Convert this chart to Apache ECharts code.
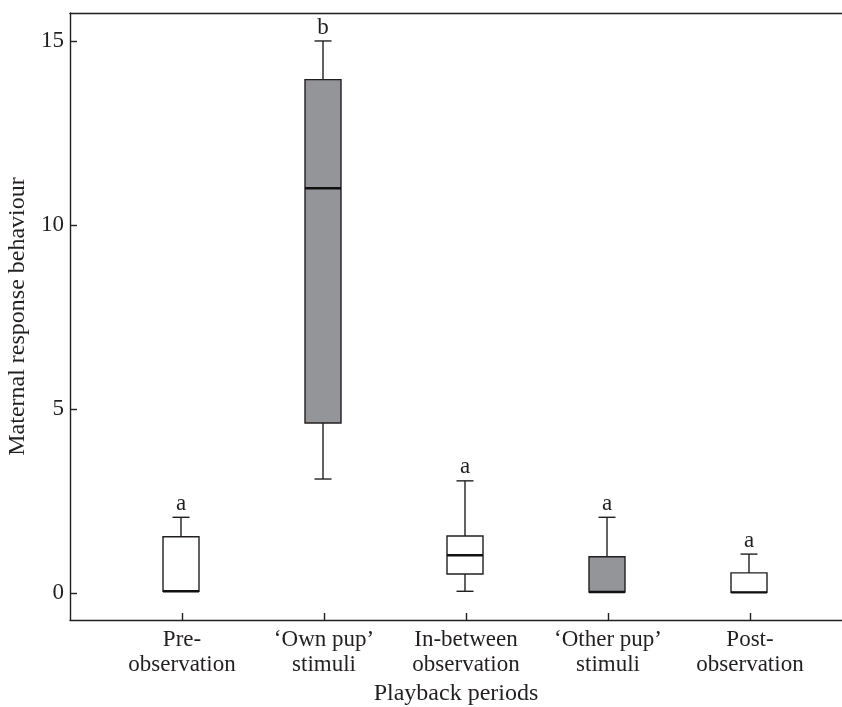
<!DOCTYPE html>
<html>
<head>
<meta charset="utf-8">
<script src="https://cdn.jsdelivr.net/npm/echarts@6/dist/echarts.min.js"></script>
<style>
  html, body { margin: 0; padding: 0; background: #fff; }
  #chart { width: 842px; height: 707px; }
</style>
</head>
<body>
<div id="chart"></div>
<script>
// playback periods
var categories = ['Pre-\nobservation', '\u2018Own pup\u2019\nstimuli', 'In-between\nobservation', '\u2018Other pup\u2019\nstimuli', 'Post-\nobservation'];
// [lower whisker, Q1, median, Q3, upper whisker]
var boxValues = [
  [0.05, 0.05, 0.05, 1.53, 2.06],
  [3.1, 4.62, 11.0, 13.95, 15.0],
  [0.05, 0.52, 1.03, 1.55, 3.05],
  [0.03, 0.03, 0.03, 0.99, 2.06],
  [0.02, 0.02, 0.02, 0.55, 1.06]
];
var letters = ['a', 'b', 'a', 'a', 'a'];
var shaded = [false, true, false, true, false];
var yTicks = [0, 5, 10, 15];

var FONT = '"Liberation Serif", "DejaVu Serif", serif';
var INK = '#231f20';
var GREY = '#939598';

var yMin = -0.73, yMax = 15.76;

function renderBox(params, api) {
  var i = api.value(0);
  var lo = api.coord([i, api.value(1)]);
  var q1 = api.coord([i, api.value(2)]);
  var med = api.coord([i, api.value(3)]);
  var q3 = api.coord([i, api.value(4)]);
  var hi = api.coord([i, api.value(5)]);
  var x = lo[0] - 1;
  var bw = 36, cap = 17;
  var fill = shaded[params.dataIndex] ? GREY : '#fff';
  var line = { stroke: INK, lineWidth: 1.4 };
  var kids = [];
  // whiskers
  kids.push({ type: 'line', shape: { x1: x, y1: q3[1], x2: x, y2: hi[1] }, style: line });
  kids.push({ type: 'line', shape: { x1: x - cap / 2, y1: hi[1], x2: x + cap / 2, y2: hi[1] }, style: line });
  if (lo[1] - q1[1] > 2) {
    kids.push({ type: 'line', shape: { x1: x, y1: q1[1], x2: x, y2: lo[1] }, style: line });
    kids.push({ type: 'line', shape: { x1: x - cap / 2, y1: lo[1], x2: x + cap / 2, y2: lo[1] }, style: line });
  }
  // box
  kids.push({ type: 'rect', shape: { x: x - bw / 2, y: q3[1], width: bw, height: q1[1] - q3[1] },
    style: { fill: fill, stroke: INK, lineWidth: 1.4 } });
  // median
  kids.push({ type: 'line', shape: { x1: x - bw / 2, y1: med[1], x2: x + bw / 2, y2: med[1] },
    style: { stroke: '#111', lineWidth: 2.4 } });
  // significance letter
  kids.push({ type: 'text', x: x, y: hi[1] - 2,
    style: { text: letters[params.dataIndex], font: '23px ' + FONT, fill: INK, align: 'center', verticalAlign: 'bottom' } });
  return { type: 'group', children: kids };
}

var chart = echarts.init(document.getElementById('chart'));
chart.setOption({
  animation: false,
  grid: [
    { left: 70, right: 0, top: 13, bottom: 87, outerBoundsMode: 'none' },
    { left: 111, right: 21, top: 13, bottom: 87, outerBoundsMode: 'none' }
  ],
  xAxis: [
    { gridIndex: 0, type: 'value', min: 0, max: 1, position: 'bottom',
      axisLine: { onZero: false, lineStyle: { color: INK, width: 1.4 } },
      axisTick: { show: false }, axisLabel: { show: false }, splitLine: { show: false },
      name: 'Playback periods', nameLocation: 'middle', nameGap: 62,
      nameTextStyle: { fontFamily: FONT, fontSize: 24, color: INK } },
    { gridIndex: 0, type: 'value', min: 0, max: 1, position: 'top',
      axisLine: { onZero: false, lineStyle: { color: INK, width: 1.4 } },
      axisTick: { show: false }, axisLabel: { show: false }, splitLine: { show: false } },
    { gridIndex: 1, type: 'category', data: categories, boundaryGap: true, position: 'bottom',
      axisLine: { show: false, onZero: false },
      axisTick: { show: true, inside: true, alignWithLabel: true, length: 7, lineStyle: { color: INK, width: 1.4 } },
      axisLabel: { fontFamily: FONT, fontSize: 23, color: INK, lineHeight: 25, margin: 7, interval: 0 },
      splitLine: { show: false } }
  ],
  yAxis: [
    { gridIndex: 0, type: 'value', min: yMin, max: yMax,
      axisLine: { show: true, onZero: false, lineStyle: { color: INK, width: 1.4 } },
      axisTick: { show: true, inside: true, length: 7, customValues: yTicks, lineStyle: { color: INK, width: 1.4 } },
      axisLabel: { customValues: yTicks, fontFamily: FONT, fontSize: 23, color: INK, margin: 6 },
      splitLine: { show: false },
      name: 'Maternal response behaviour', nameLocation: 'middle', nameGap: 38,
      nameTextStyle: { fontFamily: FONT, fontSize: 24, color: INK } },
    { gridIndex: 1, type: 'value', min: yMin, max: yMax, show: false }
  ],
  series: [{
    type: 'custom',
    xAxisIndex: 2,
    yAxisIndex: 1,
    renderItem: renderBox,
    data: boxValues.map(function (b, i) { return [i].concat(b); })
  }]
});
</script>
</body>
</html>
